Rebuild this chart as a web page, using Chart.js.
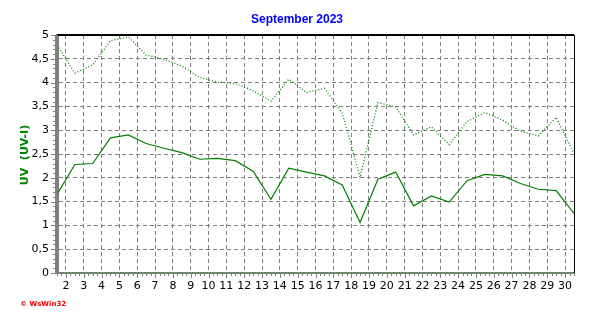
<!DOCTYPE html>
<html>
<head>
<meta charset="utf-8">
<script src="https://cdn.jsdelivr.net/npm/chart.js@4"></script>
<style>
  html, body { margin: 0; padding: 0; background: #fff; }
  #wrap { width: 592px; height: 321px; position: relative; }
</style>
</head>
<body>
<div id="wrap"><canvas id="uvChart" width="592" height="321"></canvas></div>
<script>
// days of the month, each plotted half a day to the right
const days = [1,2,3,4,5,6,7,8,9,10,11,12,13,14,15,16,17,18,19,20,21,22,23,24,25,26,27,28,29,30];
const uvAvg = [1.65,2.28,2.30,2.84,2.90,2.72,2.62,2.53,2.39,2.41,2.36,2.14,1.55,2.20,2.12,2.04,1.85,1.06,1.97,2.12,1.41,1.62,1.49,1.94,2.07,2.04,1.88,1.76,1.73,1.25];
const uvMax = [4.79,4.20,4.37,4.88,4.96,4.58,4.49,4.35,4.11,4.01,3.98,3.83,3.61,4.07,3.79,3.88,3.36,2.01,3.58,3.49,2.90,3.07,2.70,3.18,3.37,3.21,2.98,2.88,3.27,2.51];
const uvMin = [0,0,0,0,0,0,0,0,0,0,0,0,0,0,0,0,0,0,0,0,0,0,0,0,0,0,0,0,0,0];
const xTicks = [2,3,4,5,6,7,8,9,10,11,12,13,14,15,16,17,18,19,20,21,22,23,24,25,26,27,28,29,30];
const yTicks = [0,0.5,1,1.5,2,2.5,3,3.5,4,4.5,5];

function toPoints(vals) {
    return days.map(function (d, i) { return { x: d + 0.5, y: vals[i] }; });
}

// frame, minor ticks, title, axis label, copyright
const decor = {
    id: 'decor',
    afterDraw: function (chart) {
        const ctx = chart.ctx;
        const a = chart.chartArea;
        const xs = chart.scales.x, ys = chart.scales.y;
        ctx.save();
        ctx.strokeStyle = '#000';
        ctx.lineWidth = 2;
        ctx.beginPath();
        ctx.moveTo(a.left, a.top); ctx.lineTo(a.right, a.top);
        ctx.stroke();
        ctx.lineWidth = 1;
        ctx.beginPath();
        ctx.moveTo(a.right + 0.5, a.top); ctx.lineTo(a.right + 0.5, a.bottom);
        ctx.stroke();

        // left axis bar
        ctx.strokeStyle = '#808080';
        ctx.lineWidth = 3;
        ctx.beginPath();
        ctx.moveTo(a.left - 0.5, a.top); ctx.lineTo(a.left - 0.5, a.bottom + 1);
        ctx.stroke();

        ctx.lineWidth = 1;
        ctx.beginPath();
        for (let v = 0; v <= 5.001; v += 0.1) {
            const y = Math.round(ys.getPixelForValue(v)) + 0.5;
            const len = (Math.abs(v * 2 - Math.round(v * 2)) < 0.01) ? 4 : 2;
            ctx.moveTo(a.left - 2 - len, y); ctx.lineTo(a.left - 2, y);
        }
        for (let v = 1.5; v <= 30.5; v += 0.25) {
            const x = Math.round(xs.getPixelForValue(v)) + 0.5;
            const len = (Math.abs(v - Math.round(v)) < 0.01) ? 4 : 2;
            ctx.moveTo(x, a.bottom + 1); ctx.lineTo(x, a.bottom + 1 + len);
        }
        ctx.stroke();

        ctx.fillStyle = '#0000ff';
        ctx.font = 'bold 12px "Liberation Sans", Arial, sans-serif';
        ctx.textAlign = 'center';
        ctx.textBaseline = 'middle';
        ctx.fillText('September 2023', 297, 20);

        ctx.save();
        ctx.translate(25, 155);
        ctx.rotate(-Math.PI / 2);
        ctx.fillStyle = '#008000';
        ctx.font = 'bold 11px "DejaVu Sans", sans-serif';
        ctx.fillText('UV  (UV-I)', 0, 0);
        ctx.restore();

        ctx.fillStyle = '#ff0000';
        ctx.font = 'bold 7px "DejaVu Sans", sans-serif';
        ctx.textAlign = 'left';
        ctx.fillText('© WsWin32', 20, 304);
        ctx.restore();
    }
};

new Chart('uvChart', {
    type: 'line',
    data: {
        datasets: [
            {
                label: 'UV max',
                data: toPoints(uvMax),
                borderColor: '#008000',
                borderWidth: 1.3,
                borderDash: [1, 2],
                pointRadius: 0,
                tension: 0
            },
            {
                label: 'UV',
                data: toPoints(uvAvg),
                borderColor: '#008000',
                borderWidth: 1.2,
                pointRadius: 0,
                tension: 0
            },
            {
                label: 'UV min',
                data: toPoints(uvMin),
                borderColor: '#00a000',
                borderWidth: 1.3,
                borderDash: [1, 2],
                pointRadius: 0,
                tension: 0
            }
        ]
    },
    options: {
        responsive: false,
        animation: false,
        layout: { padding: { left: 0, right: 18, top: 35, bottom: 0 } },
        plugins: { legend: { display: false }, title: { display: false }, tooltip: { enabled: false } },
        scales: {
            x: {
                type: 'linear',
                min: 1.5,
                max: 30.5,
                afterBuildTicks: function (scale) { scale.ticks = xTicks.map(function (v) { return { value: v }; }); },
                afterFit: function (scale) { scale.height = 48; },
                grid: { color: '#808080', drawTicks: false },
                border: { color: '#808080', width: 2, dash: [4, 3] },
                ticks: { color: '#000', padding: 7, font: { family: '"DejaVu Sans", sans-serif', size: 11 }, maxRotation: 0, autoSkip: false }
            },
            y: {
                min: 0,
                max: 5,
                afterBuildTicks: function (scale) { scale.ticks = yTicks.map(function (v) { return { value: v }; }); },
                afterFit: function (scale) { scale.width = 57; },
                grid: { color: '#808080', drawTicks: false },
                border: { color: '#808080', width: 3, dash: [4, 3] },
                ticks: {
                    color: '#000', padding: 8,
                    font: { family: '"DejaVu Sans", sans-serif', size: 11 },
                    callback: function (v) { return String(v).replace('.', ','); }
                }
            }
        }
    },
    plugins: [decor]
});
</script>
</body>
</html>
